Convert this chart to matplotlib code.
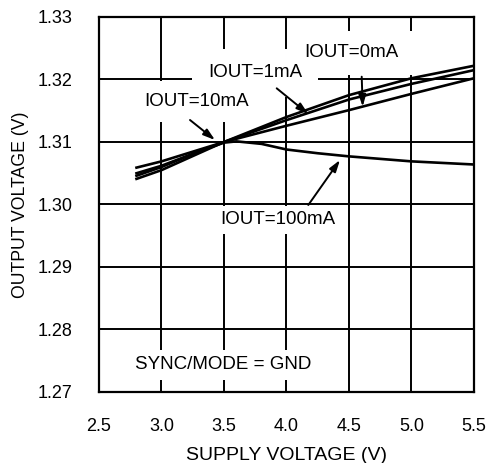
import matplotlib
matplotlib.use("Agg")
import matplotlib.pyplot as plt
import numpy as np

plt.rcParams['font.family'] = ['Liberation Sans', 'DejaVu Sans']

# Data
vin = [2.8, 3.0, 3.5, 4.0, 4.5, 5.0, 5.5]
vout_0mA = [1.3059, 1.3069, 1.3100, 1.3126, 1.3151, 1.3177, 1.3202]
vout_1mA = [1.3050, 1.3062, 1.3100, 1.3135, 1.3168, 1.3193, 1.3215]
vout_10mA = [1.3041, 1.3055, 1.3100, 1.3140, 1.3175, 1.3202, 1.3222]
vin_100 = [2.8, 3.0, 3.3, 3.5, 3.6, 3.8, 4.0, 4.25, 4.5, 5.0, 5.5]
vout_100mA = [1.3046, 1.3060, 1.3085, 1.3099, 1.3101, 1.3097, 1.3088, 1.3082, 1.3077, 1.3069, 1.3064]

xticks = [2.5, 3.0, 3.5, 4.0, 4.5, 5.0, 5.5]
yticks = [1.27, 1.28, 1.29, 1.30, 1.31, 1.32, 1.33]

fig = plt.figure(figsize=(4.89, 4.63), dpi=100)
ax = fig.add_axes([99/489, 1-392/463, 375/489, 375/463])

lw = 1.9
ax.plot(vin, vout_0mA, color='black', lw=lw, zorder=3)
ax.plot(vin, vout_1mA, color='black', lw=lw, zorder=3)
ax.plot(vin, vout_10mA, color='black', lw=lw, zorder=3)
ax.plot(vin_100, vout_100mA, color='black', lw=lw, zorder=3)

ax.set_xlim(2.5, 5.5)
ax.set_ylim(1.27, 1.33)
ax.set_xticks(xticks)
ax.set_yticks(yticks)
ax.set_xticklabels([f"{v:.1f}" for v in xticks])
ax.set_yticklabels([f"{v:.2f}" for v in yticks])
ax.grid(True, color='black', lw=1.4, zorder=1)
ax.set_axisbelow(True)
ax.tick_params(length=0, labelsize=13, pad=19)
for s in ax.spines.values():
    s.set_linewidth(1.6)
    s.set_zorder(4)

ax.set_xlabel("SUPPLY VOLTAGE (V)", fontsize=14, labelpad=8)
ax.set_ylabel("OUTPUT VOLTAGE (V)", fontsize=12.7, labelpad=6)


def label(x, y, s, pad, ha='center'):
    # white box hiding the grid behind the label, then the label on top
    ax.text(x, y, s, fontsize=13.5, ha=ha, va='center', color='none', zorder=2,
            bbox=dict(boxstyle=f'square,pad={pad}', fc='white', ec='none'))
    ax.text(x, y, s, fontsize=13.5, ha=ha, va='center', color='black', zorder=2.5)


label(3.748, 1.32104, "IOUT=1mA", 0.85)
label(4.5216, 1.32424, "IOUT=0mA", 0.7)
label(3.2816, 1.31645, "IOUT=10mA", 0.65)
label(3.932, 1.29752, "IOUT=100mA", 0.3)
label(2.788, 1.27438, "SYNC/MODE = GND", 0.35, ha='left')

akw = dict(arrowstyle='-|>,head_length=0.7,head_width=0.22', color='black', lw=1.4, shrinkA=0, shrinkB=0)
ax.annotate("", xy=(4.6096, 1.31565), xytext=(4.6016, 1.32045), arrowprops=akw, zorder=5)
ax.annotate("", xy=(4.1744, 1.31448), xytext=(3.9216, 1.31859), arrowprops=akw, zorder=5)
ax.annotate("", xy=(3.428, 1.31032), xytext=(3.228, 1.31352), arrowprops=akw, zorder=5)
ax.annotate("", xy=(4.428, 1.30712), xytext=(4.1744, 1.29992), arrowprops=akw, zorder=5)

fig.savefig("out.png", dpi=100)
